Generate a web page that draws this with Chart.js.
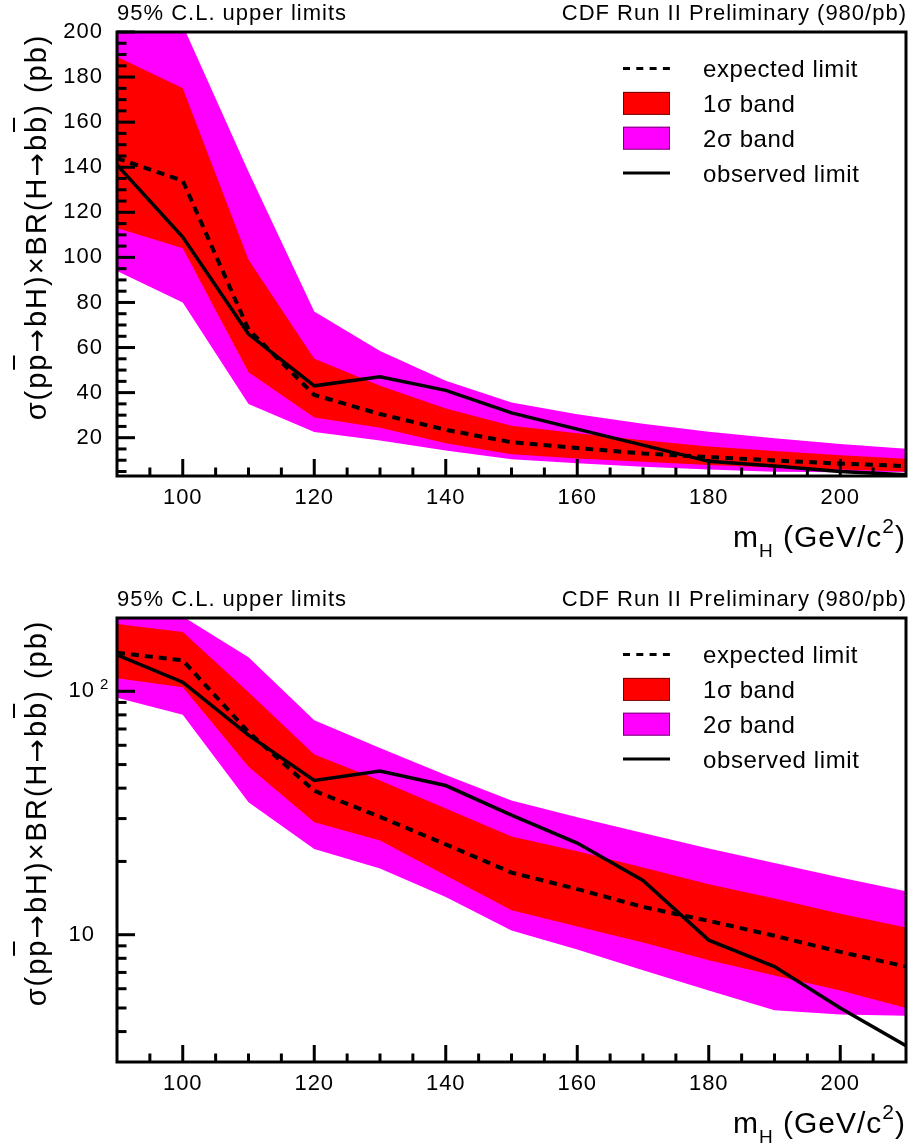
<!DOCTYPE html>
<html>
<head>
<meta charset="utf-8">
<script src="https://cdn.jsdelivr.net/npm/chart.js@4/dist/chart.umd.min.js"></script>
<style>
  html, body { margin: 0; padding: 0; background: #fff; }
  #wrap { position: relative; width: 909px; height: 1145px; }
  canvas { position: absolute; left: 0; }
  #linPanel { top: 0; }
  #logPanel { top: 572px; }
</style>
</head>
<body>
<div id="wrap">
  <canvas id="linPanel" width="909" height="572"></canvas>
  <canvas id="logPanel" width="909" height="573"></canvas>
</div>
<script>
// Higgs mass points (GeV/c^2)
const MASS = [90, 100, 110, 120, 130, 140, 150, 160, 170, 180, 190, 200, 210];

// 95% C.L. limits on sigma x BR (pb)
const OBSERVED     = [141, 109, 66, 43, 47, 41, 31, 23.8, 16.7, 9.5, 7.4, 5.0, 3.5];
const EXPECTED     = [144, 134, 68, 39, 30.5, 23.5, 18.0, 15.4, 13.0, 11.4, 9.9, 8.5, 7.4];
const ONE_SIGMA_HI = [189, 175, 99, 55, 43, 33, 25.3, 22.0, 18.9, 16.1, 14.1, 12.2, 10.7];
const ONE_SIGMA_LO = [113, 104, 49, 29, 24.4, 17.5, 12.6, 10.8, 9.3, 7.85, 6.8, 5.9, 5.0];
const TWO_SIGMA_HI = [235, 203, 138, 76, 58.5, 45.3, 35.6, 30.4, 26.2, 22.6, 19.7, 17.2, 15.1];
const TWO_SIGMA_LO = [94, 80, 35, 22.5, 18.7, 14.3, 10.4, 8.7, 7.15, 5.9, 4.9, 4.7, 4.65];

// axis ticks
const X_MAJOR = [100, 120, 140, 160, 180, 200];
const X_MINOR = [95, 105, 110, 115, 125, 130, 135, 145, 150, 155, 165, 170, 175, 185, 190, 195, 205];
const LIN_Y_MAJOR = [20, 40, 60, 80, 100, 120, 140, 160, 180, 200];
const LIN_Y_MINOR = [5, 10, 15, 25, 30, 35, 45, 50, 55, 65, 70, 75, 85, 90, 95, 105, 110, 115,
                     125, 130, 135, 145, 150, 155, 165, 170, 175, 185, 190, 195];
const LOG_Y_MAJOR = [10, 100];
const LOG_Y_EXPONENT = [null, 2];   // 100 is written as 10^2
const LOG_Y_MINOR = [4, 5, 6, 7, 8, 9, 20, 30, 40, 50, 60, 70, 80, 90];

const LEGEND = [
  { label: 'expected limit', kind: 'dash' },
  { label: '1σ band', kind: 'box', color: '#ff0000' },
  { label: '2σ band', kind: 'box', color: '#ff00ff' },
  { label: 'observed limit', kind: 'line' },
];

const FONT = '"Liberation Sans", Arial, Helvetica, sans-serif';
const ARROW_FONT = '"DejaVu Sans", sans-serif';
const RED = '#ff0000';
const MAGENTA = '#ff00ff';
const NONE = 'rgba(0,0,0,0)';

const toPoints = (ys) => MASS.map((m, i) => ({ x: m, y: ys[i] }));

// index 0 is drawn last, so the lines sit on top of the bands
const buildDatasets = () => [
  { label: 'observed limit', data: toPoints(OBSERVED), borderColor: '#000', borderWidth: 3.5, pointRadius: 0, fill: false },
  { label: 'expected limit', data: toPoints(EXPECTED), borderColor: '#000', borderWidth: 4, borderDash: [8, 6], pointRadius: 0, fill: false },
  { label: '1σ band', data: toPoints(ONE_SIGMA_HI), borderColor: NONE, borderWidth: 1, pointRadius: 0, backgroundColor: RED, fill: 3 },
  { label: '1σ low', data: toPoints(ONE_SIGMA_LO), borderColor: NONE, borderWidth: 1, pointRadius: 0, fill: false },
  { label: '2σ band', data: toPoints(TWO_SIGMA_HI), borderColor: NONE, borderWidth: 1, pointRadius: 0, backgroundColor: MAGENTA, fill: 5 },
  { label: '2σ low', data: toPoints(TWO_SIGMA_LO), borderColor: NONE, borderWidth: 1, pointRadius: 0, fill: false },
];

// ── text helpers ──────────────────────────────────────
const fontOf = (p) => `${p.size}px ${p.family || FONT}`;

const partsWidth = (ctx, parts) => parts.reduce((w, p) => {
  ctx.font = fontOf(p);
  return w + ctx.measureText(p.text).width;
}, 0);

const drawXTitle = (ctx, a) => {
  ctx.letterSpacing = '1px';
  const parts = [
    { text: 'm', size: 30 },
    { text: 'H', size: 19, dy: 10 },
    { text: ' (GeV/c', size: 30 },
    { text: '2', size: 21, dy: -14 },
    { text: ')', size: 30 },
  ];
  const base = a.bottom + 70.7;
  let cx = a.right - partsWidth(ctx, parts);
  parts.forEach(p => {
    ctx.font = fontOf(p);
    ctx.fillText(p.text, cx, base + (p.dy || 0));
    cx += ctx.measureText(p.text).width;
  });
};

// rotated title, reading upwards and ending at the top of the frame
const drawYTitle = (ctx, a) => {
  ctx.save();
  ctx.translate(46, a.top + 1.5);
  ctx.rotate(-Math.PI / 2);
  ctx.letterSpacing = '2px';
  const parts = [
    { text: 'σ(p', size: 29 }, { text: 'p', size: 29, bar: true },
    { text: '→', size: 28, family: ARROW_FONT }, { text: 'bH)×BR(H', size: 29 },
    { text: '→', size: 28, family: ARROW_FONT }, { text: 'b', size: 29 },
    { text: 'b', size: 29, bar: true }, { text: ') (pb)', size: 29 },
  ];
  let cx = -partsWidth(ctx, parts);
  ctx.lineWidth = 2;
  parts.forEach(p => {
    ctx.font = fontOf(p);
    const w = ctx.measureText(p.text).width;
    ctx.fillText(p.text, cx, 0);
    if (p.bar) {
      ctx.beginPath();
      ctx.moveTo(cx + 1, -32);
      ctx.lineTo(cx + w - 3, -32);
      ctx.stroke();
    }
    cx += w;
  });
  ctx.restore();
};

const drawLegend = (ctx, a) => {
  const symLeft = a.right - 283;
  const symW = 47;
  const textX = a.right - 203;
  ctx.font = `24px ${FONT}`;
  ctx.letterSpacing = '0.6px';
  LEGEND.forEach((e, k) => {
    const cy = a.top + 36.6 + 34.8 * k;
    if (e.kind === 'box') {
      ctx.fillStyle = e.color;
      ctx.fillRect(symLeft, cy - 11.5, symW, 23);
      ctx.strokeStyle = 'rgba(0,0,0,0.55)';
      ctx.lineWidth = 1;
      ctx.setLineDash([]);
      ctx.strokeRect(symLeft + 0.5, cy - 11, symW - 1, 22);
    } else {
      ctx.strokeStyle = '#000';
      ctx.lineWidth = 3;
      ctx.setLineDash(e.kind === 'dash' ? [7, 6.3] : []);
      ctx.beginPath();
      ctx.moveTo(symLeft, cy);
      ctx.lineTo(symLeft + symW, cy);
      ctx.stroke();
      ctx.setLineDash([]);
    }
    ctx.fillStyle = '#000';
    ctx.fillText(e.label, textX, cy + 8.6);
  });
};

// ── frame, inward ticks, titles and legend ────────────
const rootStyle = {
  id: 'rootStyle',
  beforeDraw(chart) {
    chart.ctx.letterSpacing = '1px';
  },
  afterDraw(chart, args, opts) {
    const { ctx, chartArea: a, scales: { x, y } } = chart;
    ctx.save();
    ctx.strokeStyle = '#000';
    ctx.fillStyle = '#000';
    ctx.lineCap = 'butt';
    ctx.lineWidth = 3;

    const tickX = (vals, len) => vals.forEach(v => {
      const px = x.getPixelForValue(v);
      ctx.beginPath();
      ctx.moveTo(px, a.bottom);
      ctx.lineTo(px, a.bottom - len);
      ctx.stroke();
    });
    const tickY = (vals, len) => vals.forEach(v => {
      const py = y.getPixelForValue(v);
      if (py < a.top || py > a.bottom) return;
      ctx.beginPath();
      ctx.moveTo(a.left, py);
      ctx.lineTo(a.left + len, py);
      ctx.stroke();
    });
    tickX(X_MAJOR, 17);
    tickX(X_MINOR, 8.5);
    tickY(opts.yMajor, 18);
    tickY(opts.yMinor, 9.5);

    ctx.strokeRect(a.left, a.top, a.right - a.left, a.bottom - a.top);

    // exponent next to the "10" tick label
    if (opts.exponents) {
      ctx.font = `15px ${FONT}`;
      ctx.letterSpacing = '0px';
      opts.yMajor.forEach((v, i) => {
        const e = opts.exponents[i];
        if (e == null) return;
        ctx.fillText(String(e), 100, y.getPixelForValue(v) - 2.5);
      });
    }

    // header line above the frame
    ctx.font = `22px ${FONT}`;
    ctx.letterSpacing = '1px';
    ctx.textAlign = 'left';
    ctx.fillText('95% C.L. upper limits', a.left, a.top - 11.7);
    ctx.textAlign = 'right';
    ctx.fillText('CDF Run II Preliminary (980/pb)', a.right + 1, a.top - 11.7);
    ctx.textAlign = 'left';

    drawXTitle(ctx, a);
    drawYTitle(ctx, a);
    drawLegend(ctx, a);
    ctx.restore();
  },
};

const makePanel = (canvasId, cfg) => new Chart(document.getElementById(canvasId), {
  type: 'line',
  data: { datasets: buildDatasets() },
  options: {
    responsive: false,
    animation: false,
    devicePixelRatio: 1,
    events: [],
    layout: { padding: { top: cfg.padTop, right: 3, bottom: 0, left: 0 } },
    plugins: {
      legend: { display: false },
      tooltip: { enabled: false },
      rootStyle: { yMajor: cfg.yMajor, yMinor: cfg.yMinor, exponents: cfg.exponents },
    },
    scales: {
      x: {
        type: 'linear',
        position: 'bottom',
        min: 90,
        max: 210,
        grid: { display: false, drawTicks: false },
        border: { display: false },
        ticks: { color: '#000', font: { family: FONT, size: 22 }, padding: 9, maxRotation: 0, autoSkip: false },
        afterBuildTicks: s => { s.ticks = X_MAJOR.map(v => ({ value: v })); },
        afterFit: s => { s.height = cfg.xAxisHeight; },
      },
      y: {
        type: cfg.yType,
        position: 'left',
        min: 3,
        max: 200,
        grid: { display: false, drawTicks: false },
        border: { display: false },
        ticks: {
          color: '#000',
          font: { family: FONT, size: 22 },
          padding: cfg.labelPad,
          autoSkip: false,
          callback: v => cfg.yLabel(v),
        },
        afterBuildTicks: s => { s.ticks = cfg.yMajor.map(v => ({ value: v })); },
        afterFit: s => { s.width = 117; },
      },
    },
  },
  plugins: [rootStyle],
});

makePanel('linPanel', {
  yType: 'linear',
  padTop: 32,
  xAxisHeight: 96,
  yMajor: LIN_Y_MAJOR,
  yMinor: LIN_Y_MINOR,
  labelPad: 14,
  yLabel: v => String(v),
});

makePanel('logPanel', {
  yType: 'logarithmic',
  padTop: 46,
  xAxisHeight: 83,
  yMajor: LOG_Y_MAJOR,
  yMinor: LOG_Y_MINOR,
  exponents: LOG_Y_EXPONENT,
  labelPad: 22,
  yLabel: () => '10',
});
</script>
</body>
</html>
